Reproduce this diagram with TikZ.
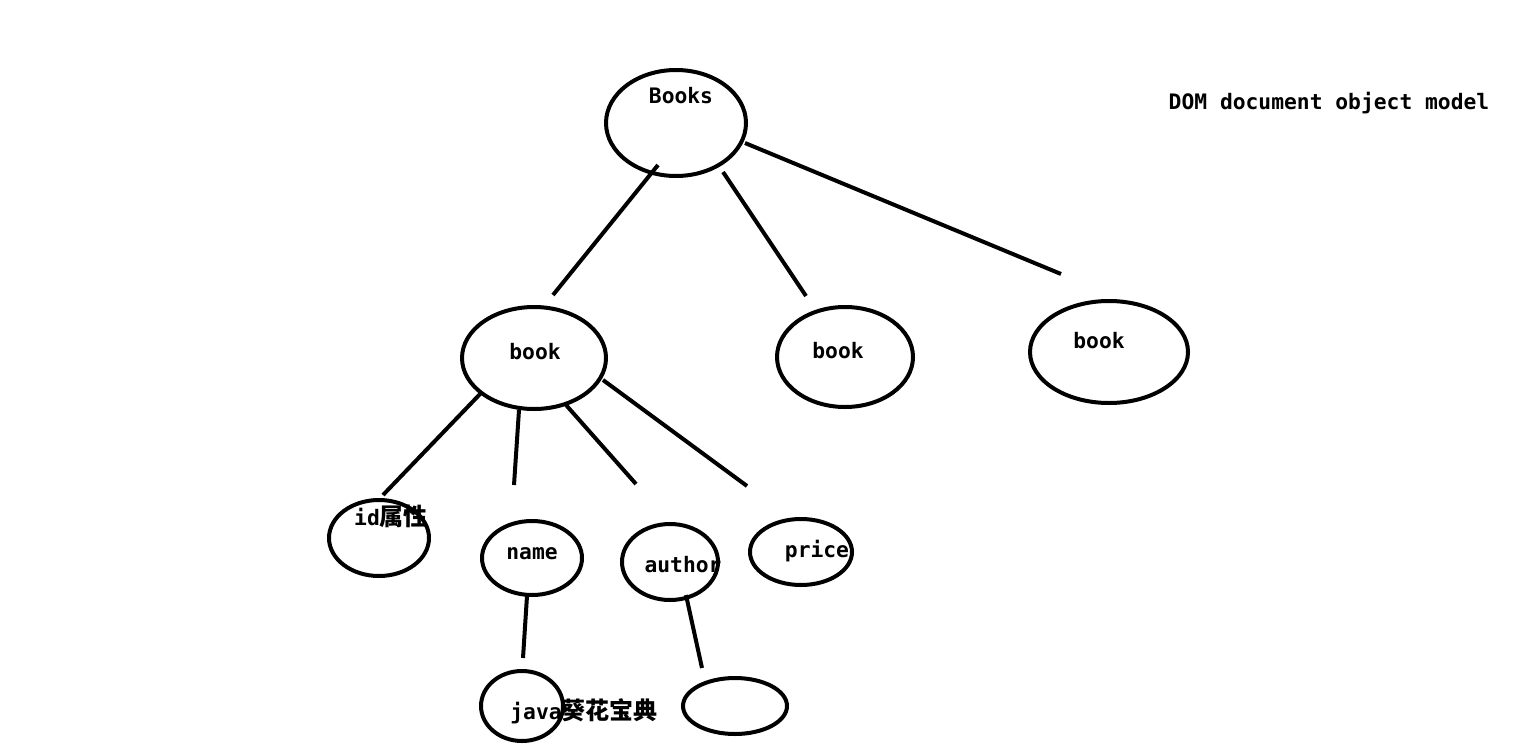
\documentclass[tikz,border=0pt]{standalone}
\usepackage{fontspec}
\setmonofont{DejaVu Sans Mono}
\newfontfamily\cjk{Noto Sans CJK SC}
\usetikzlibrary{shapes.geometric}
\tikzset{
  ell/.style={ellipse, draw, line width=4pt, inner sep=0pt},
  lbl/.style={inner sep=0pt, font=\fontsize{21.3}{24}\selectfont\ttfamily\bfseries},
  edge/.style={line width=4pt},
}
\newcommand{\zh}[1]{{\cjk\fontsize{24}{26}\selectfont\bfseries #1}}
\begin{document}
\begin{tikzpicture}[x=1pt,y=-1pt]
\useasboundingbox (0,0) rectangle (1520,744);
% labels
\node[lbl] (tBooks) at (681,96) {Books};
\node[lbl] (tb1) at (535,352) {book};
\node[lbl] (tb2) at (838,351) {book};
\node[lbl] (tb3) at (1099,341) {book};
\node[lbl] (tid) at (391,516) {id\zh{属性}};
\node[lbl] (tname) at (532,554) {name};
\node[lbl] (tauthor) at (683,565) {author};
\node[lbl] (tprice) at (817,551) {price};
\node[lbl] (tjava) at (584,711) {java\zh{葵花宝典}};
\node[lbl] (tdom) at (1329,103) {DOM document object model};
% ellipses
\node[ell, minimum width=140pt, minimum height=106pt] (Books) at (676,123) {};
\node[ell, minimum width=144pt, minimum height=102pt] (b1) at (534,358) {};
\node[ell, minimum width=136pt, minimum height=100pt] (b2) at (845,357) {};
\node[ell, minimum width=158pt, minimum height=102pt] (b3) at (1109,352) {};
\node[ell, minimum width=100pt, minimum height=76pt] (id) at (379,538) {};
\node[ell, minimum width=100pt, minimum height=74pt] (name) at (532,558) {};
\node[ell, minimum width=96pt, minimum height=76pt] (author) at (670,562) {};
\node[ell, minimum width=102pt, minimum height=66pt] (price) at (801,552) {};
\node[ell, minimum width=82pt, minimum height=70pt] (java) at (522,706) {};
\node[ell, minimum width=104pt, minimum height=56pt] (empty) at (735,706) {};
% connector end points
\coordinate (a1) at (658,165); \coordinate (a2) at (553,295);
\coordinate (c1) at (723,172); \coordinate (c2) at (806,296);
\coordinate (d1) at (745,143); \coordinate (d2) at (1061,274);
\coordinate (e1) at (482,392); \coordinate (e2) at (383,495);
\coordinate (f1) at (519,410); \coordinate (f2) at (514,485);
\coordinate (g1) at (566,405); \coordinate (g2) at (636,484);
\coordinate (h1) at (603,380); \coordinate (h2) at (747,486);
\coordinate (i1) at (527,596); \coordinate (i2) at (523,658);
\coordinate (j1) at (686,595); \coordinate (j2) at (702,668);
\draw[edge] (a1) -- (a2);
\draw[edge] (c1) -- (c2);
\draw[edge] (d1) -- (d2);
\draw[edge] (e1) -- (e2);
\draw[edge] (f1) -- (f2);
\draw[edge] (g1) -- (g2);
\draw[edge] (h1) -- (h2);
\draw[edge] (i1) -- (i2);
\draw[edge] (j1) -- (j2);
\end{tikzpicture}
\end{document}
